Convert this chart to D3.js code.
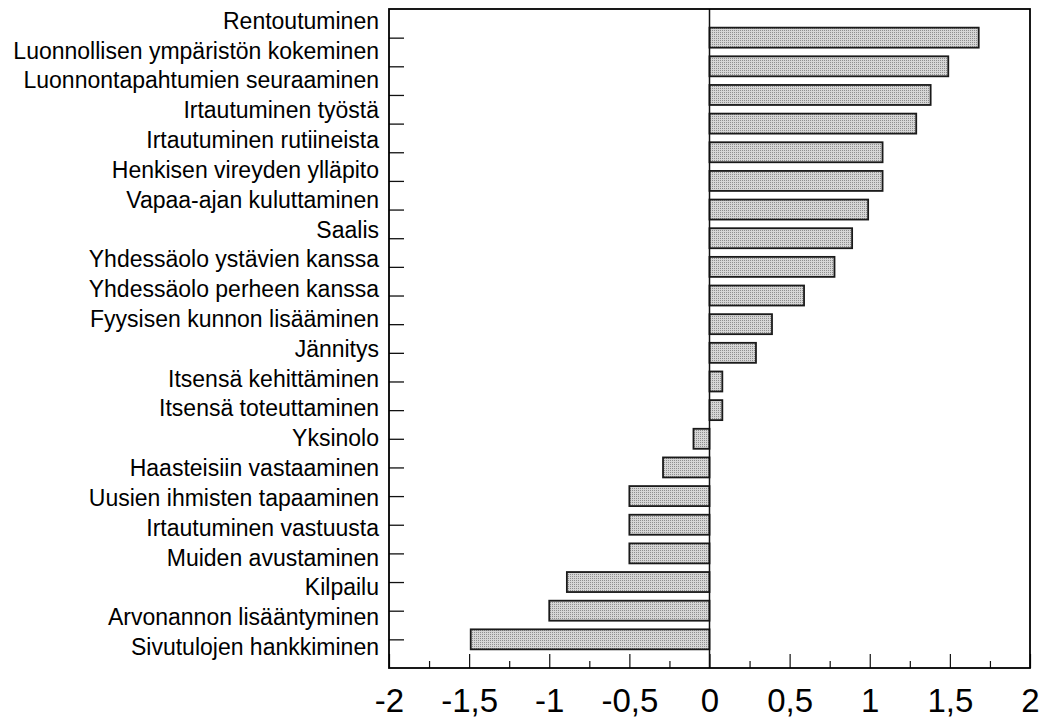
<!DOCTYPE html>
<html>
<head>
<meta charset="utf-8">
<script src="https://cdn.jsdelivr.net/npm/d3@7"></script>
<style>
  body { margin: 0; background: #fff; }
  text { font-family: "Liberation Sans", Arial, sans-serif; }
</style>
</head>
<body>
<div id="chart"></div>
<script>
// Categories, top to bottom
const categories = [
  "Rentoutuminen",
  "Luonnollisen ympäristön kokeminen",
  "Luonnontapahtumien seuraaminen",
  "Irtautuminen työstä",
  "Irtautuminen rutiineista",
  "Henkisen vireyden ylläpito",
  "Vapaa-ajan kuluttaminen",
  "Saalis",
  "Yhdessäolo ystävien kanssa",
  "Yhdessäolo perheen kanssa",
  "Fyysisen kunnon lisääminen",
  "Jännitys",
  "Itsensä kehittäminen",
  "Itsensä toteuttaminen",
  "Yksinolo",
  "Haasteisiin vastaaminen",
  "Uusien ihmisten tapaaminen",
  "Irtautuminen vastuusta",
  "Muiden avustaminen",
  "Kilpailu",
  "Arvonannon lisääntyminen",
  "Sivutulojen hankkiminen"
];

// Values
const values = [
  1.68, 1.49, 1.38, 1.29, 1.08, 1.08, 0.99, 0.89, 0.78, 0.59, 0.39,
  0.29, 0.08, 0.08, -0.1, -0.29, -0.5, -0.5, -0.5, -0.89, -1.0, -1.49
];

const xTicks = [-2, -1.5, -1, -0.5, 0, 0.5, 1, 1.5, 2];
const xMinorTicks = [-1.75, -1.25, -0.75, -0.25, 0.25, 0.75, 1.25, 1.75];

const data = categories.map((c, i) => ({ name: c, value: values[i] }));

// Chart dimensions
const W = 1045, H = 722;
const plot = { left: 389, top: 9, right: 1030, bottom: 668 };

const svg = d3.select("#chart")
  .append("svg")
  .attr("width", W)
  .attr("height", H);

// Fine dotted fill for the bars
const defs = svg.append("defs");
const pat = defs.append("pattern")
  .attr("id", "dots")
  .attr("patternUnits", "userSpaceOnUse")
  .attr("width", 2)
  .attr("height", 2);
pat.append("rect").attr("width", 2).attr("height", 2).attr("fill", "#d6d6d6");
pat.append("rect").attr("x", 0).attr("y", 0).attr("width", 1).attr("height", 1).attr("fill", "#8e8e8e");

// Scales
const x = d3.scaleLinear()
  .domain([-2, 2])
  .range([plot.left, plot.right]);

const y = d3.scalePoint()
  .domain(categories)
  .range([plot.top, plot.bottom])
  .padding(1);

// labels sit on their own band positions (slightly offset from the ticks)
const yLab = d3.scaleBand()
  .domain(categories)
  .range([plot.top - 2.5, plot.bottom - 5.5]);

const barH = 20;

// Bars
svg.append("g")
  .selectAll("rect")
  .data(data)
  .join("rect")
  .attr("x", d => x(Math.min(0, d.value)))
  .attr("y", d => y(d.name) - barH / 2)
  .attr("width", d => Math.abs(x(d.value) - x(0)))
  .attr("height", barH)
  .attr("fill", "url(#dots)")
  .attr("stroke", "#1a1a1a")
  .attr("stroke-width", 1.8);

// Zero line
svg.append("line")
  .attr("x1", x(0)).attr("x2", x(0))
  .attr("y1", plot.top).attr("y2", plot.bottom)
  .attr("stroke", "#111")
  .attr("stroke-width", 1.5);

// Y ticks (pointing inside)
svg.append("g")
  .attr("transform", "translate(" + plot.left + ",0)")
  .call(d3.axisLeft(y).tickSizeInner(-15).tickSizeOuter(0).tickFormat(""))
  .call(g => g.select(".domain").remove())
  .call(g => g.selectAll("line").attr("stroke", "#111").attr("stroke-width", 1.3));

// Y labels
svg.append("g")
  .attr("transform", "translate(" + plot.left + ",0)")
  .call(d3.axisLeft(yLab).tickSize(0).tickPadding(10))
  .call(g => g.select(".domain").remove())
  .call(g => g.selectAll("text")
    .attr("font-size", 23)
    .attr("fill", "#000")
    .style("font-family", "'Liberation Sans', Arial, sans-serif"));

// X axis: comma decimal
const fi = d3.formatLocale({ decimal: ",", thousands: " ", grouping: [3], currency: ["", ""], minus: "-" });
const fmt = v => fi.format("")(v);

svg.append("g")
  .attr("transform", "translate(0," + plot.bottom + ")")
  .call(d3.axisBottom(x).tickValues(xTicks).tickSizeInner(-14).tickSizeOuter(0).tickPadding(21).tickFormat(fmt))
  .call(g => g.select(".domain").remove())
  .call(g => g.selectAll("line").attr("stroke", "#111").attr("stroke-width", 1.2))
  .call(g => g.selectAll("text")
    .attr("font-size", 33)
    .attr("fill", "#000")
    .style("font-family", "'Liberation Sans', Arial, sans-serif"));

svg.append("g")
  .attr("transform", "translate(0," + plot.bottom + ")")
  .call(d3.axisBottom(x).tickValues(xMinorTicks).tickSizeInner(-7).tickSizeOuter(0).tickFormat(""))
  .call(g => g.select(".domain").remove())
  .call(g => g.selectAll("line").attr("stroke", "#111").attr("stroke-width", 1.2));

// Frame
svg.append("rect")
  .attr("x", plot.left)
  .attr("y", plot.top)
  .attr("width", plot.right - plot.left)
  .attr("height", plot.bottom - plot.top)
  .attr("fill", "none")
  .attr("stroke", "#000")
  .attr("stroke-width", 1.8);
</script>
</body>
</html>
